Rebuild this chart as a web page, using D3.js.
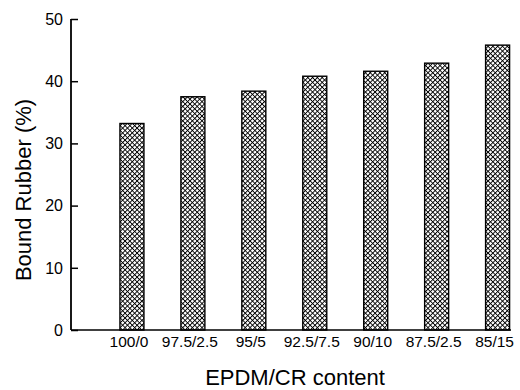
<!DOCTYPE html>
<html>
<head>
<meta charset="utf-8">
<script src="https://cdn.jsdelivr.net/npm/d3@7"></script>
<style>
  body { margin: 0; background: #fff; }
  text { font-family: "Liberation Sans", Arial, sans-serif; fill: #000; }
</style>
</head>
<body>
<div id="wrapper"></div>
<script>
var categories = ["100/0", "97.5/2.5", "95/5", "92.5/7.5", "90/10", "87.5/2.5", "85/15"]
var boundRubber = [33.2, 37.5, 38.4, 40.8, 41.6, 42.9, 45.8]
var yTicks = [0, 10, 20, 30, 40, 50]

var width = 520
var height = 390

var svg = d3.select("#wrapper")
    .append("svg")
    .attr("width", width)
    .attr("height", height)

// crosshatch fill for the bars
var defs = svg.append("defs")
defs.append("pattern")
    .attr("id", "hatch")
    .attr("patternUnits", "userSpaceOnUse")
    .attr("width", 3.4)
    .attr("height", 3.4)
    .attr("patternTransform", "rotate(45)")
    .call(p => {
        p.append("rect").attr("width", 3.4).attr("height", 3.4).attr("fill", "#fff")
        p.append("path")
            .attr("d", "M0,0H3.4M0,0V3.4")
            .attr("stroke", "#000")
            .attr("stroke-width", 1.9)
    })

var x = d3.scaleLinear()
    .domain([0, 7.22])
    .range([71, 511])

var y = d3.scaleLinear()
    .domain([0, 50])
    .range([330, 19])

var barWidth = 24

svg.append("g")
    .selectAll("rect")
    .data(boundRubber)
    .enter()
    .append("rect")
    .attr("x", (d, i) => x(i + 1) - barWidth / 2)
    .attr("y", d => y(d))
    .attr("width", barWidth)
    .attr("height", d => y(0) - y(d))
    .attr("fill", "url(#hatch)")
    .attr("stroke", "#000")
    .attr("stroke-width", 1.4)

// y axis: ticks pointing inward
var yAxis = svg.append("g")
    .attr("transform", `translate(${x(0)},0)`)
    .call(d3.axisRight(y).tickValues(yTicks).tickSize(7).tickFormat(""))
yAxis.select(".domain").remove()
yAxis.selectAll("line").attr("stroke-width", 1.5)
yAxis.append("line")
    .attr("y1", y(50))
    .attr("y2", y(0))
    .attr("stroke", "#000")
    .attr("stroke-width", 1.8)

svg.append("g")
    .selectAll("text")
    .data(yTicks)
    .enter()
    .append("text")
    .attr("x", 63)
    .attr("y", d => y(d))
    .attr("dy", "0.36em")
    .attr("text-anchor", "end")
    .style("font-size", "16px")
    .text(d => d)

// x axis baseline
svg.append("line")
    .attr("x1", x(0))
    .attr("x2", x(7.22))
    .attr("y1", y(0))
    .attr("y2", y(0))
    .attr("stroke", "#000")
    .attr("stroke-width", 1.5)

svg.append("g")
    .selectAll("text")
    .data(categories)
    .enter()
    .append("text")
    .attr("x", (d, i) => x(i + 1) - 3)
    .attr("y", 347)
    .attr("text-anchor", "middle")
    .style("font-size", "15.5px")
    .text(d => d)

svg.append("text")
    .attr("x", 295)
    .attr("y", 385)
    .attr("text-anchor", "middle")
    .style("font-size", "22px")
    .text("EPDM/CR content")

svg.append("text")
    .attr("transform", "translate(31,190) rotate(-90)")
    .attr("text-anchor", "middle")
    .style("font-size", "22px")
    .text("Bound Rubber (%)")
</script>
</body>
</html>
